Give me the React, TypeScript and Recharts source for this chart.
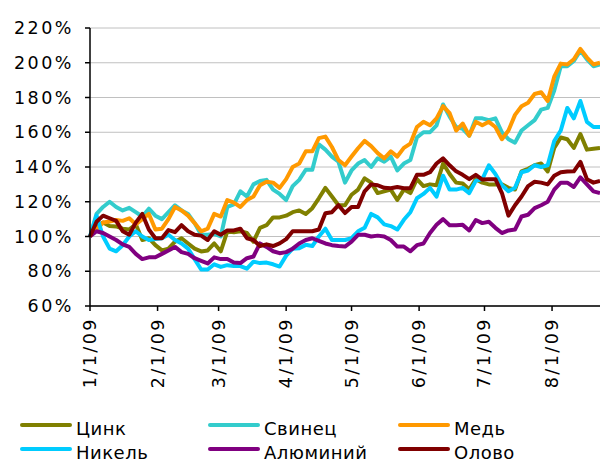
import React from 'react';
import { LineChart, Line, XAxis, YAxis, CartesianGrid } from 'recharts';

const FONT = "'DejaVu Sans', Verdana, sans-serif";

// days since 1 Jan 2009
const days = [
  0, 3, 6, 9, 12, 15, 18, 21, 24, 27,
  30, 33, 36, 39, 42, 45, 48, 51, 54, 57,
  60, 63, 66, 69, 72, 75, 78, 81, 84, 87,
  90, 93, 96, 99, 102, 105, 108, 111, 114, 117,
  120, 123, 126, 129, 132, 135, 138, 141, 144, 147,
  150, 153, 156, 159, 162, 165, 168, 171, 174, 177,
  180, 183, 186, 189, 192, 195, 198, 201, 204, 207,
  210, 213, 216, 219, 222, 225, 228, 231, 234,
];

const zinc = [
  100, 106, 108, 106, 105.8, 104.5, 104, 107, 98, 99,
  95, 92, 93, 97, 99, 96, 93, 91.4, 92, 96,
  91.5, 103, 102.5, 103, 102, 97, 105, 106.5, 111, 111,
  112, 114, 115, 113, 116.3, 122, 128, 123, 118, 118,
  124, 127, 133.5, 131, 125, 126, 127, 121, 127, 125,
  133, 129, 130, 129.5, 142, 136, 131, 130.5, 127, 133,
  131, 130, 130, 130, 128, 127, 137.5, 139, 141, 142,
  137.5, 151, 157, 156, 151, 159, 150, 150.5, 151,
];

const lead = [
  100, 113, 117, 120, 117, 115, 116.5, 114, 111.5, 116,
  112, 110, 114, 118, 115, 113, 107.7, 101, 101, 101.5,
  100, 117, 118.5, 126, 123, 130, 132, 132.6, 127, 124.5,
  121, 129, 132.6, 138.4, 138.4, 153, 150, 146, 143, 131,
  138, 142, 144, 140, 145, 143, 146, 138, 142, 144,
  157, 160, 160, 164, 176, 169, 163, 162, 158, 168,
  168, 167, 168, 160, 156, 154, 161, 164, 167, 173,
  174, 184, 198, 198, 201, 207, 202, 198, 199,
];

const copper = [
  100, 104, 108, 108.6, 109.5, 109, 110.5, 107, 110, 113,
  104, 104.5, 110, 117, 115, 112, 107.7, 103, 104.5, 113,
  111.5, 121, 119.5, 117, 121, 123, 129.5, 131.5, 131, 128,
  133, 140, 142, 149, 149, 156.6, 157.5, 151.5, 144, 141,
  146, 150.8, 155, 152, 148, 145, 149, 146, 151, 153.5,
  163, 166, 164, 168, 175, 171, 161, 165, 158, 166,
  164, 166, 163, 156, 161, 170, 175, 177, 182, 183,
  178, 192, 199.5, 199, 202, 208, 203, 199, 200,
];

const nickel = [
  100, 112, 100, 93, 91.5, 95, 100, 103, 100, 98,
  98.5, 99, 101, 98, 96, 93, 87, 81, 81, 84,
  82.5, 83.5, 83, 83, 81.5, 85.5, 84.7, 85, 84, 82.7,
  89, 93, 93.3, 95.2, 94.5, 100, 104.5, 98, 98, 98,
  99, 103, 105, 113, 111, 107, 106, 104, 109.6, 114,
  122, 124.5, 128, 123, 135, 127, 127, 128, 125, 132,
  133, 141, 136, 129.5, 126, 128, 137, 138, 141, 140,
  141, 155, 161, 174, 168, 178, 166, 163, 163,
];

const aluminium = [
  100, 103, 102, 100, 98, 95.5, 94, 90, 87, 88,
  88, 90, 92, 94, 91, 90, 87.5, 86, 84.5, 88,
  87, 87, 85, 84.7, 87.5, 88.5, 96, 94, 91.5, 90.4,
  91, 93, 96, 98, 99, 97.5, 96, 95, 94.5, 94.2,
  97, 101, 101, 100, 100.5, 100, 98, 94.2, 94.2, 91.5,
  95, 96, 102, 106.7, 110, 106.5, 106.5, 106.7, 103.5, 109.5,
  107.7, 108.5, 105, 102, 103.5, 104, 111.5, 112.5, 116.3, 118,
  120, 127, 131, 131, 128.5, 134, 130, 126, 125,
];

const tin = [
  100, 108.5, 112, 110.5, 109, 103, 101, 108, 113, 104,
  99, 99, 103.7, 102.5, 106.5, 103, 101, 100.5, 98, 103,
  101, 103.5, 103.5, 104.5, 99, 98, 94.5, 95.5, 94.5, 96,
  98.5, 103, 103, 103, 103, 104, 113.4, 114, 118, 113.5,
  117, 117, 126, 130, 129.5, 128, 127.8, 128.5, 127.8, 127.8,
  135.5, 135.5, 137, 142, 145, 141, 137.5, 135.5, 133, 135.5,
  132.8, 133, 133, 125, 112, 118, 123, 129, 131.5, 131,
  130, 135, 137, 137.4, 137.5, 143, 133, 131, 132,
];

const monthTicks = [0, 31, 59, 90, 120, 151, 181, 212];
const monthLabels = ['1/1/09', '2/1/09', '3/1/09', '4/1/09', '5/1/09', '6/1/09', '7/1/09', '8/1/09'];
const yTicks = [60, 80, 100, 120, 140, 160, 180, 200, 220];

const series = [
  { key: 'zinc', name: 'Цинк', color: '#808000', values: zinc },
  { key: 'lead', name: 'Свинец', color: '#33CCCC', values: lead },
  { key: 'copper', name: 'Медь', color: '#FF9900', values: copper },
  { key: 'nickel', name: 'Никель', color: '#00CCFF', values: nickel },
  { key: 'aluminium', name: 'Алюминий', color: '#800080', values: aluminium },
  { key: 'tin', name: 'Олово', color: '#800000', values: tin },
];

const data = days.map((day, i) => {
  const row: Record<string, number> = { day };
  series.forEach(s => {
    row[s.key] = s.values[i];
  });
  return row;
});

const YTick = ({ x, y, payload }: any) => (
  <text x={x} y={y} dy={6} textAnchor="end" fontSize={17.5} letterSpacing={2.5} fill="#000" fontFamily={FONT}>
    {payload.value}%
  </text>
);

const XTick = ({ x, y, payload }: any) => {
  const label = monthLabels[monthTicks.indexOf(payload.value)];
  return (
    <text transform={`translate(${x + 6},${y}) rotate(-90)`} textAnchor="end" fontSize={17.5} letterSpacing={2.5} fill="#000" fontFamily={FONT}>
      {label}
    </text>
  );
};

const legendX = [22, 210, 400];
const legendY = [425, 449];

export default function App() {
  return (
    <div style={{ position: 'absolute', left: 0, top: 0, width: 600, height: 464, background: '#fff' }}>
      <LineChart width={600} height={464} data={data} margin={{ top: 28, right: 0, bottom: 0, left: 0 }}>
        <CartesianGrid vertical={false} stroke="#c0c0c0" strokeWidth={1} />
        <XAxis
          dataKey="day"
          type="number"
          domain={[0, 234]}
          ticks={monthTicks}
          height={158}
          tickSize={5}
          tickMargin={6}
          stroke="#000"
          strokeWidth={1.5}
          tick={<XTick />}
          interval={0}
        />
        <YAxis
          domain={[60, 220]}
          ticks={yTicks}
          width={90}
          tickSize={5}
          tickMargin={11}
          stroke="#000"
          strokeWidth={1.5}
          tick={<YTick />}
          interval={0}
        />
        {series.map(s => (
          <Line
            key={s.key}
            dataKey={s.key}
            name={s.name}
            type="linear"
            stroke={s.color}
            strokeWidth={4}
            strokeLinejoin="round"
            dot={false}
            isAnimationActive={false}
          />
        ))}
      </LineChart>
      <svg width={600} height={464} style={{ position: 'absolute', left: 0, top: 0, pointerEvents: 'none' }}>
        {series.map((s, i) => {
          const lx = legendX[i % 3];
          const ly = legendY[Math.floor(i / 3)];
          return (
            <g key={s.key}>
              <line x1={lx} x2={lx + 48} y1={ly} y2={ly} stroke={s.color} strokeWidth={4} strokeLinecap="round" />
              <text x={lx + 54} y={ly + 9.5} fontSize={18} letterSpacing={0.5} fill="#000" fontFamily={FONT}>
                {s.name}
              </text>
            </g>
          );
        })}
      </svg>
    </div>
  );
}
